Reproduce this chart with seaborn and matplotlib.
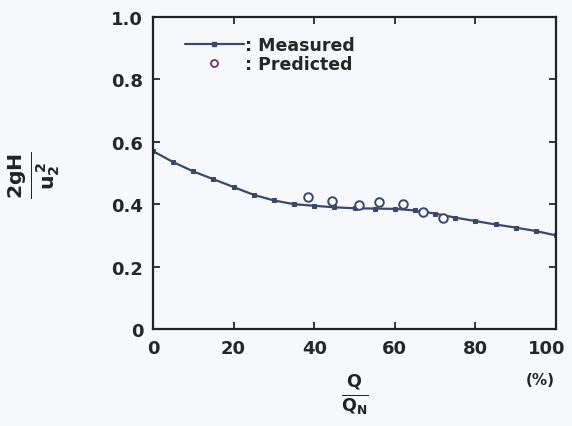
import matplotlib
matplotlib.use("Agg")
import matplotlib.pyplot as plt
import matplotlib.transforms as mtrans
import seaborn as sns
import pandas as pd
from matplotlib.lines import Line2D

# measured curve (Q/QN in %, 2gH/u2^2)
measured_q = [0, 5, 10, 15, 20, 25, 30, 35, 40, 45, 50, 55, 60, 65, 70, 75, 80, 85, 90, 95, 100]
measured_h = [0.57, 0.535, 0.505, 0.48, 0.455, 0.43, 0.412, 0.40, 0.395, 0.39, 0.387, 0.386,
              0.385, 0.38, 0.37, 0.357, 0.346, 0.335, 0.325, 0.314, 0.30]

# predicted points
predicted_q = [38.5, 44.5, 51, 56, 62, 67, 72]
predicted_h = [0.423, 0.41, 0.397, 0.407, 0.40, 0.375, 0.356]

x_ticks = [0, 20, 40, 60, 80, 100]
y_ticks = [0, 0.2, 0.4, 0.6, 0.8, 1.0]
y_tick_labels = ["0", "0.2", "0.4", "0.6", "0.8", "1.0"]

line_col = "#3b4868"

sns.set_style("ticks")
plt.rcParams["font.family"] = ["DejaVu Sans"]
plt.rcParams["font.weight"] = "bold"

fig = plt.figure(figsize=(5.72, 4.27), dpi=100)
fig.patch.set_facecolor("#f7f8fc")
ax = fig.add_axes([153 / 572, 1 - 330 / 427, (556 - 153) / 572, (330 - 18) / 427])
ax.set_facecolor("#f7f8fc")

df_m = pd.DataFrame({"q": measured_q, "h": measured_h})
df_p = pd.DataFrame({"q": predicted_q, "h": predicted_h})

sns.lineplot(data=df_m, x="q", y="h", ax=ax, color=line_col, lw=1.6,
             marker="s", markersize=3.5, markeredgecolor=line_col)
sns.scatterplot(data=df_p, x="q", y="h", ax=ax, marker="o", s=38,
                facecolor="white", edgecolor=line_col, linewidth=1.4, zorder=5)

ax.set_xlim(0, 100)
ax.set_ylim(0, 1.0)
ax.set_xticks(x_ticks)
ax.set_yticks(y_ticks)
ax.set_yticklabels(y_tick_labels)
ax.tick_params(direction="in", length=5, width=1.3, top=True, right=True,
               labelsize=13, pad=7)
for lab in ax.get_xticklabels() + ax.get_yticklabels():
    lab.set_fontweight("bold")
# keep the "100" inside the figure
last = ax.get_xticklabels()[-1]
last.set_transform(last.get_transform() + mtrans.ScaledTranslation(-9 / 100, 0, fig.dpi_scale_trans))
for s in ax.spines.values():
    s.set_linewidth(1.6)
    s.set_color("#222222")
ax.set_xlabel("")
ax.set_ylabel("")

handles = [Line2D([], [], color=line_col, lw=1.6, marker="s", markersize=3.5),
           Line2D([], [], color="#7a3a6a", lw=0, marker="o", markersize=5,
                  markerfacecolor="white", markeredgewidth=1.4)]
leg = ax.legend(handles, [": Measured", ": Predicted"], loc="upper left",
                bbox_to_anchor=(0.04, 0.99), frameon=False, handlelength=3.4,
                handletextpad=0.05, labelspacing=0.1,
                prop={"weight": "bold", "size": 12.5})

fig.text(355 / 572, 1 - 395 / 427, r"$\mathbf{\frac{Q}{Q_N}}$", ha="center", va="center",
         fontsize=18, color="#222222")
fig.text(34 / 572, 1 - 175 / 427, r"$\mathbf{\frac{2gH}{u_2^{\,2}}}$", ha="center", va="center",
         fontsize=21, rotation=90, color="#222222")
fig.text(540 / 572, 1 - 381 / 427, "(%)", ha="center", va="center", fontsize=11,
         fontweight="bold", color="#222222")

fig.savefig("out.png", dpi=100, facecolor=fig.get_facecolor())
